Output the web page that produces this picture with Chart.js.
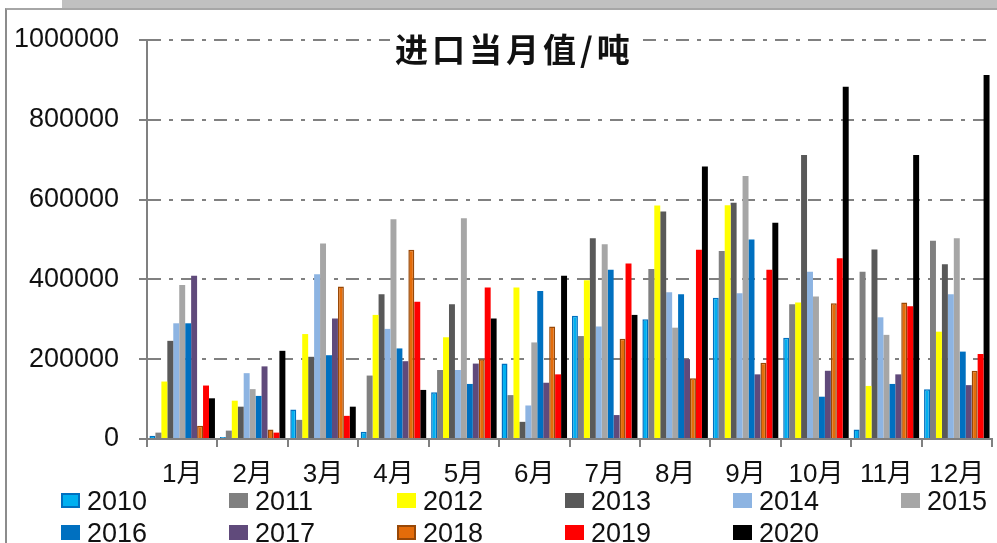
<!DOCTYPE html>
<html>
<head>
<meta charset="utf-8">
<script src="https://cdn.jsdelivr.net/npm/chart.js"></script>
<style>
html, body { margin: 0; padding: 0; background: #fff; }
#wrap { position: relative; width: 997px; height: 543px; overflow: hidden; }
#topbar { position: absolute; left: 62px; top: 0; width: 935px; height: 8px; background: #c0c0c0; }
#frame { position: absolute; left: 5px; top: 8px; width: 1000px; height: 600px; border-left: 2px solid #8c8c8c; border-top: 2px solid #a6a6a6; }
canvas { position: absolute; left: 0; top: 0; }
#title { position: absolute; left: 390px; top: 28px; padding: 0 5px; background: #fff; color: #111;
  font: bold 33px 'Noto Sans CJK SC', sans-serif; letter-spacing: 4px; line-height: 40px; }
.item { position: absolute; font: 27px 'Liberation Sans', Arial, sans-serif; color: #111; line-height: 20px; }
.item span.box { position: absolute; left: 0; top: 2px; width: 19px; height: 15px; box-sizing: border-box; }
.item span.txt { position: absolute; left: 26px; top: 0; white-space: nowrap; }
</style>
</head>
<body>
<div id="wrap">
  <div id="topbar"></div>
  <div id="frame"></div>
  <canvas id="chart" width="997" height="543"></canvas>
  <div id="title">进口当月值/吨</div>
  <div id="legend"></div>
</div>
<script>
const months = ['1月', '2月', '3月', '4月', '5月', '6月', '7月', '8月', '9月', '10月', '11月', '12月'];
const years = ['2010', '2011', '2012', '2013', '2014', '2015', '2016', '2017', '2018', '2019', '2020'];

const v2010 = [8000, 5000, 74000, 18000, 117000, 189000, 309000, 300000, 354000, 254000, 24000, 125000];
const v2011 = [16000, 21000, 48000, 159000, 173000, 110000, 258000, 426000, 471000, 338000, 419000, 497000];
const v2012 = [144000, 96000, 263000, 311000, 255000, 380000, 398000, 585000, 586000, 342000, 133000, 269000];
const v2013 = [246000, 81000, 206000, 363000, 338000, 43000, 503000, 570000, 592000, 712000, 475000, 438000];
const v2014 = [290000, 165000, 413000, 276000, 173000, 84000, 282000, 368000, 365000, 419000, 305000, 363000];
const v2015 = [386000, 125000, 490000, 551000, 553000, 242000, 488000, 279000, 659000, 357000, 261000, 503000];
const v2016 = [290000, 108000, 210000, 227000, 138000, 371000, 424000, 363000, 500000, 106000, 138000, 219000];
const v2017 = [409000, 182000, 302000, 195000, 189000, 141000, 60000, 200000, 162000, 171000, 162000, 135000];
const v2018 = [33000, 24000, 382000, 474000, 200000, 282000, 251000, 152000, 191000, 340000, 342000, 171000];
const v2019 = [134000, 16000, 58000, 344000, 380000, 162000, 440000, 474000, 424000, 453000, 333000, 213000];
const v2020 = [102000, 221000, 81000, 123000, 302000, 409000, 311000, 683000, 542000, 883000, 712000, 912000];

const yTicks = [0, 200000, 400000, 600000, 800000, 1000000];

const seriesValues = [v2010, v2011, v2012, v2013, v2014, v2015, v2016, v2017, v2018, v2019, v2020];
const fillColors = ['#00b0f0', '#808080', '#ffff00', '#595959', '#8db4e2', '#a6a6a6', '#0070c0', '#604a7b', '#e46c0a', '#ff0000', '#000000'];
const edgeColors = ['#0070c0', '#808080', '#ffff00', '#595959', '#8db4e2', '#a6a6a6', '#0070c0', '#604a7b', '#984807', '#ff0000', '#000000'];
const edged = [true, false, false, false, false, false, false, false, true, false, false];

const FONT = "'Liberation Sans', 'Noto Sans CJK SC', Arial, sans-serif";

const datasets = years.map((y, i) => ({
    label: y,
    data: seriesValues[i],
    backgroundColor: fillColors[i],
    borderColor: edgeColors[i],
    borderWidth: edged[i] ? 1.5 : 0,
    borderSkipped: 'bottom',
    categoryPercentage: 0.93,
    barPercentage: 1.0
}));

const chart = new Chart(document.getElementById('chart').getContext('2d'), {
    type: 'bar',
    data: { labels: months, datasets },
    options: {
        responsive: false,
        animation: false,
        layout: { padding: { top: 40, right: 5, bottom: 54, left: 0 } },
        plugins: { legend: { display: false }, title: { display: false }, tooltip: { enabled: false } },
        scales: {
            x: {
                grid: { offset: true, drawOnChartArea: false, drawTicks: true, tickLength: 8, color: '#808080', lineWidth: 2 },
                border: { color: '#808080', width: 2 },
                ticks: { color: '#111', font: { family: FONT, size: 26 }, padding: 12 },
                afterFit: s => { s.height = 50; }
            },
            y: {
                min: 0,
                max: 1000000,
                afterBuildTicks: s => { s.ticks = yTicks.map(v => ({ value: v })); },
                ticks: { color: '#111', font: { family: FONT, size: 27 }, padding: 20, callback: v => String(v) },
                grid: { color: '#808080', lineWidth: 2, tickLength: 8, drawTicks: true },
                border: { color: '#808080', width: 2, dash: [13, 8, 4, 8] },
                afterFit: s => { s.width = 147; }
            }
        }
    }
});

// legend in fixed columns, built from the chart's datasets
const legend = document.getElementById('legend');
chart.data.datasets.forEach((ds, i) => {
    const col = i % 6, row = Math.floor(i / 6);
    const item = document.createElement('div');
    item.className = 'item';
    item.style.left = (61 + col * 168) + 'px';
    item.style.top = (491 + row * 32) + 'px';
    const box = document.createElement('span');
    box.className = 'box';
    box.style.background = ds.backgroundColor;
    if (ds.borderWidth) box.style.border = '2px solid ' + ds.borderColor;
    const txt = document.createElement('span');
    txt.className = 'txt';
    txt.textContent = ds.label;
    item.appendChild(box);
    item.appendChild(txt);
    legend.appendChild(item);
});
</script>
</body>
</html>
